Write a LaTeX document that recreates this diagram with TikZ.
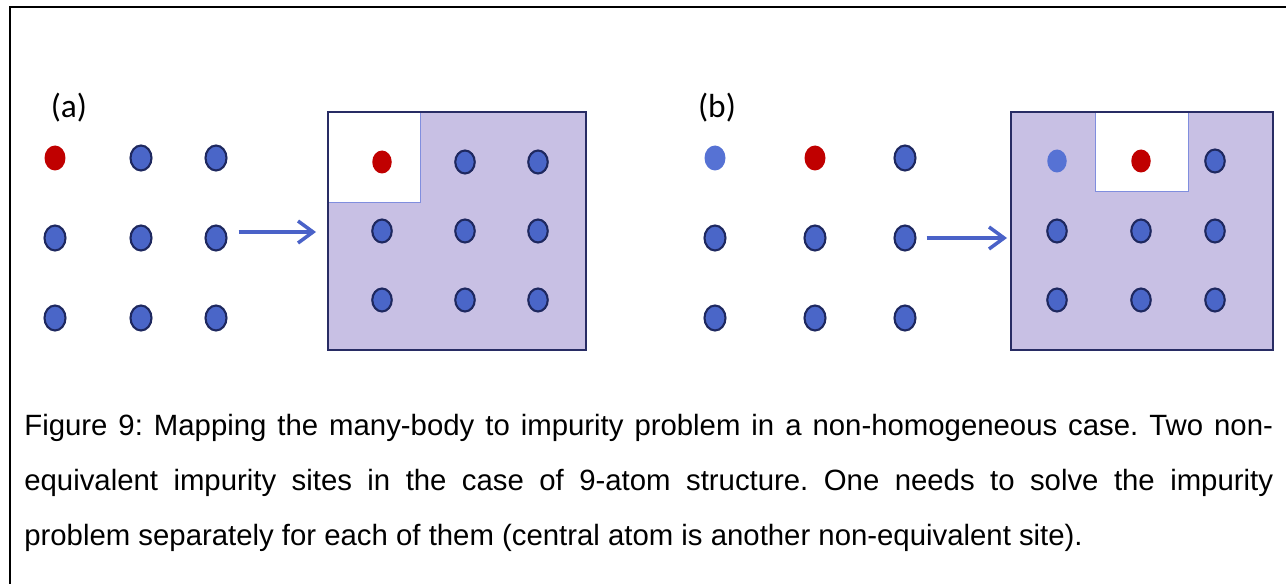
\documentclass[tikz,border=0pt]{standalone}
\usepackage{fontspec}
\setmainfont{Liberation Sans}
\newfontfamily\labfont{Carlito}
\usepackage{xcolor}
\usetikzlibrary{arrows.meta,positioning,shapes.geometric}

\definecolor{atomblue}{RGB}{74,102,200}
\definecolor{atomline}{RGB}{30,40,95}
\definecolor{softblue}{RGB}{86,114,212}
\definecolor{impred}{RGB}{192,0,0}
\definecolor{bathfill}{RGB}{200,192,228}
\definecolor{bathline}{RGB}{40,44,100}
\definecolor{holeline}{RGB}{128,142,222}
\definecolor{arrblue}{RGB}{74,98,200}

\begin{document}
\begin{tikzpicture}[
    x=0.02cm, y=-0.02cm,
    atom/.style={ellipse, draw=atomline, fill=atomblue, line width=1.2pt, inner sep=0pt, minimum width=0.42cm, minimum height=0.5cm},
    satom/.style={atom, minimum width=0.39cm, minimum height=0.46cm},
    imp/.style={draw=none, fill=impred},
    soft/.style={draw=none, fill=softblue},
    bath/.style={fill=bathfill, inner sep=0pt, anchor=north west},
    hole/.style={draw=holeline, fill=white, line width=0.8pt, inner sep=0pt, anchor=north west},
    edge/.style={draw=bathline, line width=1.3pt},
    arr/.style={-{Straight Barb[length=3mm, width=4.4mm]}, line width=2pt, arrblue},
    lab/.style={font=\labfont\fontsize{19pt}{22pt}\selectfont}
]
\useasboundingbox (0,0) rectangle (1286,584);
\draw[line width=1.4pt] (10,600) -- (10,7) -- (1300,7);

\node[lab] (la) at (69,108) {(a)};
\node[lab] (lb) at (717,108) {(b)};

% lattice (a)
\node[atom, imp] (a11) at (55,158) {};  \node[atom] (a12) at (141,158) {}; \node[atom] (a13) at (216,158) {};
\node[atom] (a21) at (55,238) {};       \node[atom] (a22) at (141,238) {}; \node[atom] (a23) at (216,238) {};
\node[atom] (a31) at (55,318) {};       \node[atom] (a32) at (141,318) {}; \node[atom] (a33) at (216,318) {};

\node[bath, minimum width=5.14cm, minimum height=4.74cm] (boxa) at (328,112) {};
\node[hole, minimum width=1.84cm, minimum height=1.8cm] (holea) at (boxa.north west) {};
\draw[edge] (boxa.north west) rectangle (boxa.south east);
\node[satom, imp] (ai11) at (382,162) {}; \node[satom] (ai12) at (465,162) {}; \node[satom] (ai13) at (538,162) {};
\node[satom] (ai21) at (382,231) {};      \node[satom] (ai22) at (465,231) {}; \node[satom] (ai23) at (538,231) {};
\node[satom] (ai31) at (382,300) {};      \node[satom] (ai32) at (465,300) {}; \node[satom] (ai33) at (538,300) {};

% lattice (b)
\node[atom, soft] (b11) at (715,158) {}; \node[atom, imp] (b12) at (815,158) {}; \node[atom] (b13) at (905,158) {};
\node[atom] (b21) at (715,238) {};       \node[atom] (b22) at (815,238) {};      \node[atom] (b23) at (905,238) {};
\node[atom] (b31) at (715,318) {};       \node[atom] (b32) at (815,318) {};      \node[atom] (b33) at (905,318) {};

\node[bath, minimum width=5.22cm, minimum height=4.74cm] (boxb) at (1011,112) {};
\node[hole, minimum width=1.86cm, minimum height=1.58cm] (holeb) at (1095,112) {};
\draw[edge] (boxb.north west) rectangle (boxb.south east);
\node[satom, soft] (bi11) at (1057,161) {}; \node[satom, imp] (bi12) at (1141,161) {}; \node[satom] (bi13) at (1215,161) {};
\node[satom] (bi21) at (1057,231) {};       \node[satom] (bi22) at (1141,231) {};      \node[satom] (bi23) at (1215,231) {};
\node[satom] (bi31) at (1057,300) {};       \node[satom] (bi32) at (1141,300) {};      \node[satom] (bi33) at (1215,300) {};

\draw[arr, shorten <=0.22cm, shorten >=0.24cm] ([yshift=0.12cm]a23.east) -- ([yshift=0.12cm]a23.east -| boxa.west);
\draw[arr, shorten <=0.2cm, shorten >=0.08cm] (b23.east) -- (b23.east -| boxb.west);

\node[anchor=base west, text width=24.98cm, align=justify, inner sep=0pt, font=\fontsize{16.7pt}{31.2pt}\selectfont] (cap) at (24,436)
  {\frenchspacing\hyphenpenalty=10000 Figure 9: Mapping the many-body to impurity problem in a non-homogeneous case. Two non-\linebreak
   equivalent impurity sites in the case of 9-atom structure. One needs to solve the impurity\linebreak
   problem separately for each of them (central atom is another non-equivalent site).};
\end{tikzpicture}
\end{document}
